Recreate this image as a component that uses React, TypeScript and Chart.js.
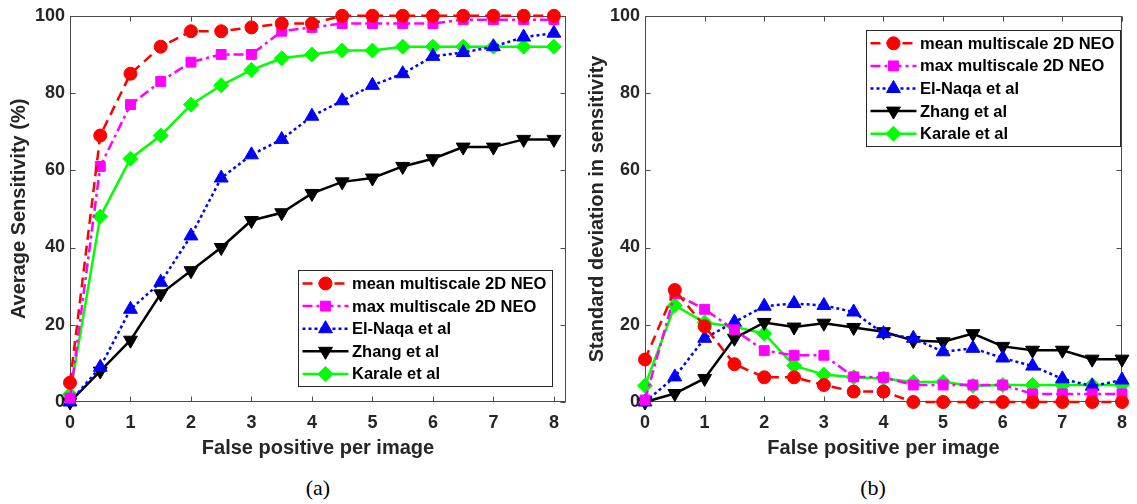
import React, { useEffect, useRef } from 'react';
import { Chart, registerables } from 'chart.js';

Chart.register(...registerables);

// ---------- data ----------
const fpPerImage = [0, 0.5, 1, 1.5, 2, 2.5, 3, 3.5, 4, 4.5, 5, 5.5, 6, 6.5, 7, 7.5, 8];
const xTickValues = [0, 1, 2, 3, 4, 5, 6, 7, 8];
const yTickValues = [0, 20, 40, 60, 80, 100];
const seriesNames = ['mean multiscale 2D NEO', 'max multiscale 2D NEO', 'El-Naqa et al', 'Zhang et al', 'Karale et al'];

// (a) average sensitivity (%)
const meanSens = [5, 69, 85, 92, 96, 96, 97, 98, 98, 100, 100, 100, 100, 100, 100, 100, 100];
const maxSens = [1, 61, 77, 83, 88, 90, 90, 96, 97, 98, 98, 98, 98, 99, 99, 99, 99];
const elNaqaSens = [0, 9, 24, 31, 43, 58, 64, 68, 74, 78, 82, 85, 89.5, 90.5, 92, 94.5, 95.5];
const zhangSens = [0, 8, 16, 28, 34, 40, 47, 49, 54, 57, 58, 61, 63, 66, 66, 68, 68];
const karaleSens = [2, 48, 63, 69, 77, 82, 86, 89, 90, 91, 91, 92, 92, 92, 92, 92, 92];

// (b) standard deviation in sensitivity
const meanStd = [11, 29, 19.6, 9.8, 6.4, 6.4, 4.4, 2.7, 2.7, 0, 0, 0, 0, 0, 0, 0, 0];
const maxStd = [0.5, 28, 24, 18.7, 13.3, 12.1, 12.1, 6.5, 6.4, 4.4, 4.4, 4.4, 4.4, 2.1, 2.1, 2.1, 2.1];
const elNaqaStd = [0, 6.5, 16.5, 20.7, 24.8, 25.5, 25, 23.3, 17.7, 16.5, 13, 13.9, 11.4, 9.3, 6, 4.1, 5.7];
const zhangStd = [0, 2.2, 6.1, 16.5, 20.6, 19.4, 20.4, 19.3, 18.2, 15.9, 15.6, 17.7, 14.4, 13.4, 13.4, 11.1, 11.1];
const karaleStd = [4.2, 25, 20.6, 19.5, 17.7, 9.4, 7.1, 6.4, 6.1, 5.2, 5.2, 4.2, 4.4, 4.4, 4.4, 4.4, 4.4];

// ---------- styles ----------
const FONT = "'Liberation Sans', Arial, Helvetica, sans-serif";
const AXIS_COLOR = '#262626';
const seriesStyles = [
  { color: '#FF0000', dash: [10, 6], pointStyle: 'circle', radius: 6.5, rotation: 0 },
  { color: '#FF00FF', dash: [10, 4, 3, 4], pointStyle: 'rect', radius: 7, rotation: 0 },
  { color: '#0000FF', dash: [3, 3], pointStyle: 'triangle', radius: 8, rotation: 0 },
  { color: '#000000', dash: [], pointStyle: 'triangle', radius: 8, rotation: 180 },
  { color: '#00FF00', dash: [], pointStyle: 'rectRot', radius: 7.5, rotation: 0 },
];

function drawMarker(ctx: CanvasRenderingContext2D, st: any, x: number, y: number) {
  const r = st.radius;
  ctx.beginPath();
  if (st.pointStyle === 'circle') {
    ctx.arc(x, y, r, 0, Math.PI * 2);
  } else if (st.pointStyle === 'rect') {
    const s = Math.SQRT1_2 * r;
    ctx.rect(x - s, y - s, 2 * s, 2 * s);
  } else if (st.pointStyle === 'rectRot') {
    ctx.moveTo(x, y - r); ctx.lineTo(x + r, y); ctx.lineTo(x, y + r); ctx.lineTo(x - r, y);
    ctx.closePath();
  } else if (st.pointStyle === 'triangle') {
    let rad = (st.rotation * Math.PI) / 180;
    ctx.moveTo(x + Math.sin(rad) * r, y - Math.cos(rad) * r);
    rad += (2 * Math.PI) / 3;
    ctx.lineTo(x + Math.sin(rad) * r, y - Math.cos(rad) * r);
    rad += (2 * Math.PI) / 3;
    ctx.lineTo(x + Math.sin(rad) * r, y - Math.cos(rad) * r);
    ctx.closePath();
  }
  ctx.fill();
  ctx.stroke();
}

const framePlugin = {
  id: 'matFrame',
  beforeDatasetsDraw(chart: any) {
    const { ctx, chartArea: a, scales } = chart;
    const xs = scales.x, ys = scales.y;
    const L = Math.round(a.left) + 0.5, R = Math.round(a.right) - 0.5;
    const T = Math.round(a.top) + 0.5, B = Math.round(a.bottom) - 0.5;
    ctx.save();
    ctx.strokeStyle = '#4a4a4a';
    ctx.lineWidth = 1;
    ctx.setLineDash([]);
    ctx.strokeRect(L, T, R - L, B - T);
    const tl = 5;
    ctx.beginPath();
    xTickValues.forEach((v) => {
      const px = Math.round(xs.getPixelForValue(v)) + 0.5;
      if (px < L - 1 || px > R + 1) return;
      ctx.moveTo(px, B); ctx.lineTo(px, B - tl);
      ctx.moveTo(px, T); ctx.lineTo(px, T + tl);
    });
    yTickValues.forEach((v) => {
      const py = Math.round(ys.getPixelForValue(v)) + 0.5;
      ctx.moveTo(L, py); ctx.lineTo(L + tl, py);
      ctx.moveTo(R, py); ctx.lineTo(R - tl, py);
    });
    ctx.stroke();
    ctx.restore();
  },
};

const legendPlugin = {
  id: 'boxLegend',
  afterDatasetsDraw(chart: any, _args: any, opts: any) {
    const { ctx, chartArea: a } = chart;
    const w = 254, h = 116;
    const left = a.right - opts.rightInset - w;
    const top = opts.anchor === 'top' ? a.top + opts.vInset : a.bottom - opts.vInset - h;
    ctx.save();
    ctx.fillStyle = '#ffffff';
    ctx.fillRect(left, top, w, h);
    ctx.strokeStyle = '#262626';
    ctx.lineWidth = 1;
    ctx.strokeRect(Math.round(left) + 0.5, Math.round(top) + 0.5, w, h);
    chart.data.datasets.forEach((ds: any, i: number) => {
      const st = seriesStyles[i];
      const cy = top + 13.5 + i * 22.6;
      ctx.save();
      ctx.strokeStyle = st.color;
      ctx.lineWidth = 2.5;
      ctx.setLineDash(st.dash);
      ctx.beginPath();
      ctx.moveTo(left + 4.5, cy);
      ctx.lineTo(left + 50.5, cy);
      ctx.stroke();
      ctx.setLineDash([]);
      ctx.fillStyle = st.color;
      ctx.strokeStyle = st.color;
      ctx.lineWidth = 1;
      drawMarker(ctx, st, left + 27.5, cy);
      ctx.restore();
      ctx.fillStyle = '#000000';
      ctx.font = `bold 16.5px ${FONT}`;
      ctx.textBaseline = 'middle';
      ctx.textAlign = 'left';
      ctx.fillText(ds.label, left + 54, cy + 1);
    });
    ctx.restore();
  },
};

function buildConfig(values: number[][], xMax: number, yTitle: string, yTitlePad: number, legendOpts: any) {
  const datasets = values.map((vals, i) => {
    const st = seriesStyles[i];
    return {
      label: seriesNames[i],
      data: fpPerImage.map((x, j) => ({ x, y: vals[j] })),
      borderColor: st.color,
      backgroundColor: st.color,
      borderWidth: 2.5,
      borderDash: st.dash,
      pointStyle: st.pointStyle,
      pointRadius: st.radius,
      pointRotation: st.rotation,
      pointBackgroundColor: st.color,
      pointBorderColor: st.color,
      pointBorderWidth: 1,
      tension: 0,
      clip: false,
      fill: false,
    };
  });
  const tickFont = { family: FONT, size: 18, weight: 'bold' as const };
  const titleFont = { family: FONT, size: 20, weight: 'bold' as const };
  return {
    type: 'line' as const,
    data: { datasets },
    plugins: [framePlugin, legendPlugin],
    options: {
      animation: false as const,
      responsive: false,
      maintainAspectRatio: false,
      layout: { padding: { top: 15, right: 8, bottom: 0, left: 0 } },
      plugins: {
        legend: { display: false },
        tooltip: { enabled: false },
        boxLegend: legendOpts,
      },
      scales: {
        x: {
          type: 'linear' as const,
          min: 0,
          max: xMax,
          afterBuildTicks: (s: any) => { s.ticks = xTickValues.map((v) => ({ value: v })); },
          afterFit: (s: any) => { s.height = 58; },
          grid: { display: false, drawTicks: false },
          border: { display: false },
          ticks: { padding: 10, color: AXIS_COLOR, font: tickFont, maxRotation: 0, autoSkip: false },
          title: {
            display: true,
            text: 'False positive per image',
            color: AXIS_COLOR,
            font: titleFont,
            padding: { top: 0, bottom: 0 },
          },
        },
        y: {
          type: 'linear' as const,
          min: 0,
          max: 100,
          afterBuildTicks: (s: any) => { s.ticks = yTickValues.map((v) => ({ value: v })); },
          afterFit: (s: any) => { s.width = 70; },
          grid: { display: false, drawTicks: false },
          border: { display: false },
          ticks: { padding: 5, color: AXIS_COLOR, font: tickFont },
          title: {
            display: true,
            text: yTitle,
            color: AXIS_COLOR,
            font: titleFont,
            padding: { top: yTitlePad, bottom: 0 },
          },
        },
      },
    },
  };
}

function ChartPanel(props: { left: number; width: number; config: any }) {
  const ref = useRef<HTMLCanvasElement | null>(null);
  useEffect(() => {
    if (!ref.current) return;
    const chart = new Chart(ref.current, props.config);
    return () => chart.destroy();
  }, []);
  return (
    <canvas
      ref={ref}
      width={props.width}
      height={460}
      style={{ position: 'absolute', left: props.left, top: 0, width: props.width, height: 460 }}
    />
  );
}

export default function App() {
  const cfgA = buildConfig(
    [meanSens, maxSens, elNaqaSens, zhangSens, karaleSens],
    8.2,
    'Average Sensitivity (%)',
    7,
    { anchor: 'bottom', rightInset: 14, vInset: 16 }
  );
  const cfgB = buildConfig(
    [meanStd, maxStd, elNaqaStd, zhangStd, karaleStd],
    8,
    'Standard deviation in sensitivity',
    10,
    { anchor: 'top', rightInset: 2, vInset: 14 }
  );
  const capStyle: React.CSSProperties = {
    position: 'absolute',
    top: 475,
    width: 100,
    textAlign: 'center',
    fontFamily: "'Liberation Serif', 'Times New Roman', serif",
    fontSize: 22,
    lineHeight: '26px',
    color: '#000',
  };
  return (
    <div style={{ position: 'absolute', left: 0, top: 0, width: 1137, height: 504, background: '#fff' }}>
      <ChartPanel left={0} width={575} config={cfgA} />
      <ChartPanel left={575} width={562} config={cfgB} />
      <div style={{ ...capStyle, left: 268 }}>(a)</div>
      <div style={{ ...capStyle, left: 823 }}>(b)</div>
    </div>
  );
}
